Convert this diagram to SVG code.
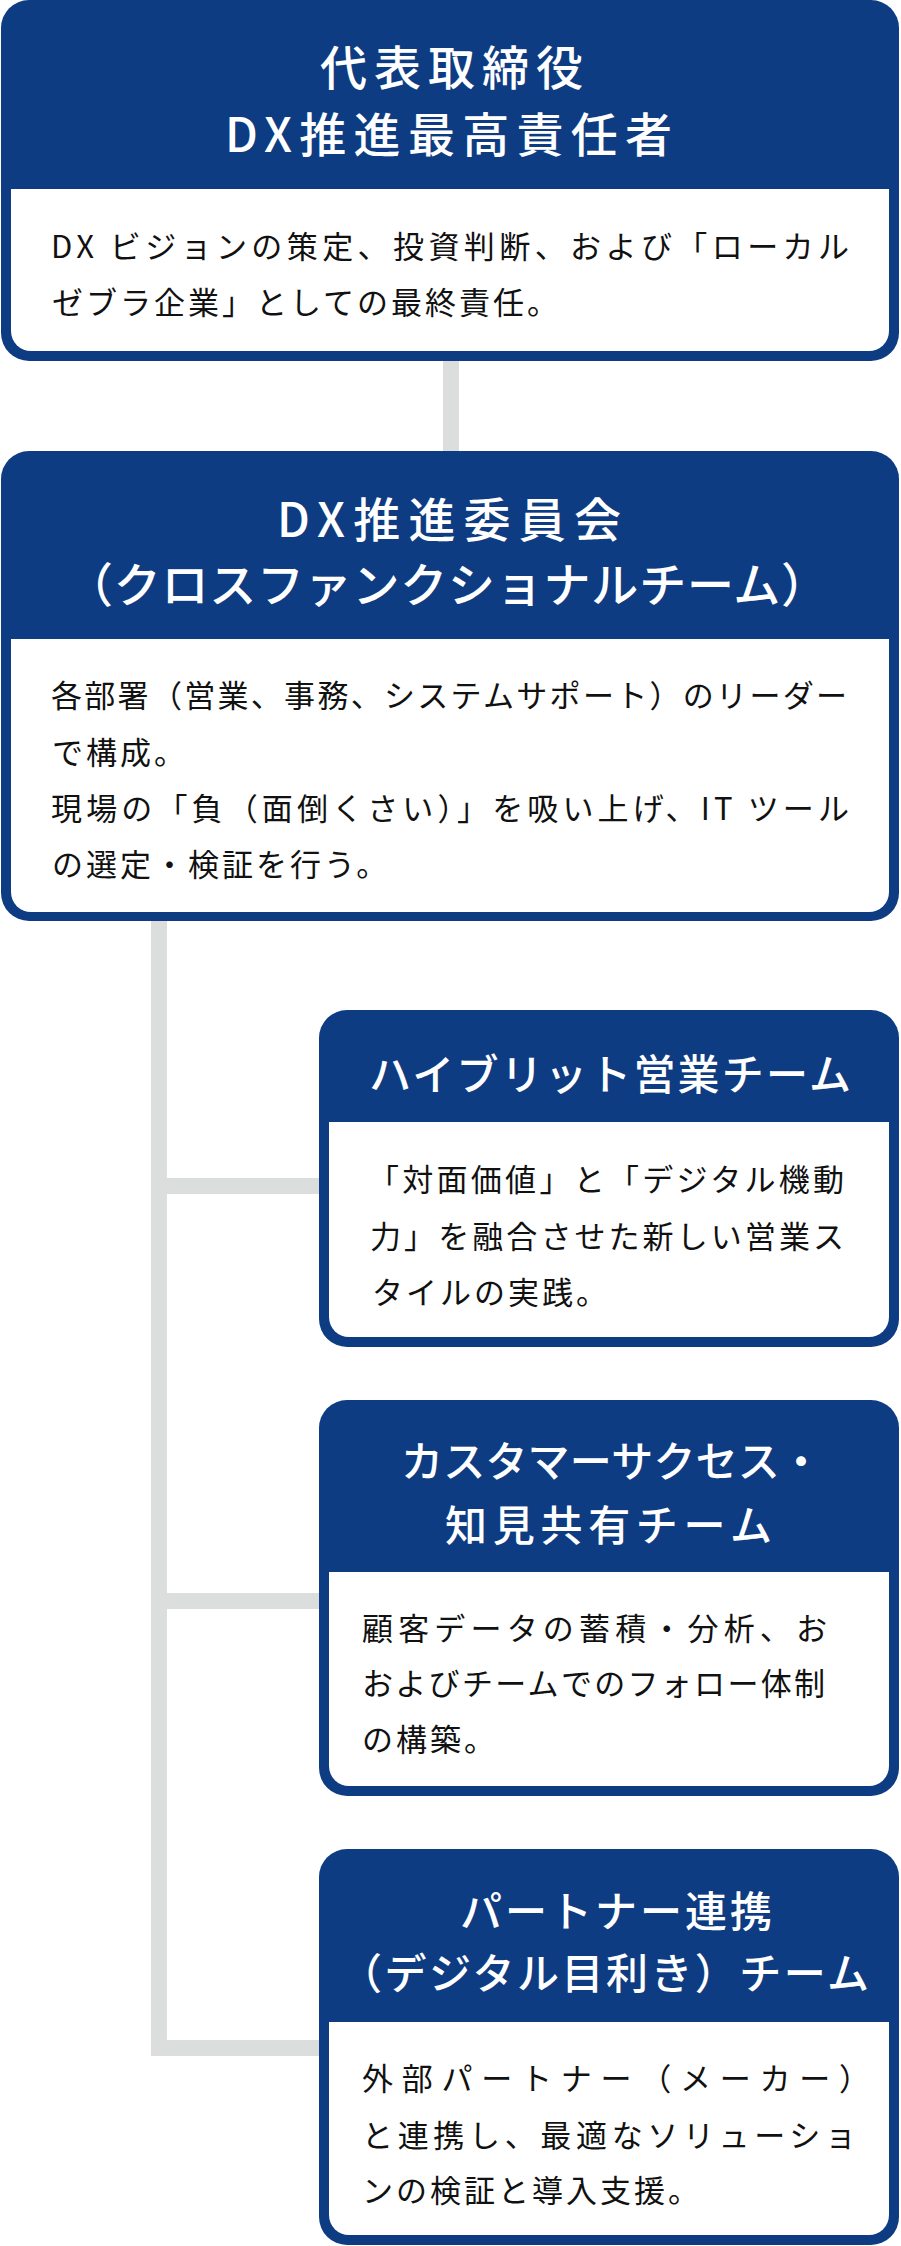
<svg xmlns="http://www.w3.org/2000/svg" width="901" height="2246" viewBox="0 0 901 2246">
<style>
.box{fill:#0e3c82}
.inner{fill:#ffffff}
.ttl{font-family:"Noto Sans CJK JP","Noto Sans",sans-serif;fill:#ffffff;font-weight:500;dominant-baseline:central}
.t1{font-size:47px}
.t2{font-size:42px}
.body{font-family:"Noto Sans CJK JP","Noto Sans",sans-serif;fill:#111111;font-size:31px;letter-spacing:3px;dominant-baseline:central}
.conn{fill:none;stroke:#dcdddd;stroke-width:16;stroke-linejoin:miter;stroke-linecap:butt}
</style>
<g id="connectors">
<path class="conn" d="M451,361 V451"/>
<path class="conn" d="M159,921 V2048 H319"/>
<path class="conn" d="M159,1186 H319"/>
<path class="conn" d="M159,1601 H319"/>
</g>
<g id="node-ceo">
<rect class="box" x="1" y="0" width="898" height="361" rx="28"/>
<path class="inner" d="M11,189 H889 V331 A20,20 0 0 1 869,351 H31 A20,20 0 0 1 11,331 Z"/>
<text class="ttl t1" x="320" y="64" textLength="263" lengthAdjust="spacing">代表取締役</text>
<text class="ttl t1" x="225" y="131" textLength="447" lengthAdjust="spacing">DX推進最高責任者</text>
<text class="body" x="51" y="244" textLength="801" lengthAdjust="spacing">DX ビジョンの策定、投資判断、および「ローカル</text>
<text class="body" x="52" y="300">ゼブラ企業」としての最終責任。</text>
</g>
<g id="node-committee">
<rect class="box" x="1" y="451" width="898" height="470" rx="28"/>
<path class="inner" d="M11,639 H889 V892 A20,20 0 0 1 869,912 H31 A20,20 0 0 1 11,892 Z"/>
<text class="ttl t1" x="277" y="516" textLength="344" lengthAdjust="spacing">DX推進委員会</text>
<text class="ttl t1" x="66" y="581" textLength="762" lengthAdjust="spacing">（クロスファンクショナルチーム）</text>
<text class="body" x="51" y="693" textLength="799" lengthAdjust="spacing">各部署（営業、事務、システムサポート）のリーダー</text>
<text class="body" x="52" y="750">で構成。</text>
<text class="body" x="51" y="806" textLength="801" lengthAdjust="spacing">現場の「負（面倒くさい）」を吸い上げ、IT ツール</text>
<text class="body" x="52" y="862">の選定・検証を行う。</text>
</g>
<g id="node-hybrid-sales">
<rect class="box" x="319" y="1010" width="580" height="337" rx="28"/>
<path class="inner" d="M329,1122 H889 V1317 A20,20 0 0 1 869,1337 H349 A20,20 0 0 1 329,1317 Z"/>
<text class="ttl t2" x="369" y="1071" textLength="482" lengthAdjust="spacing">ハイブリット営業チーム</text>
<text class="body" x="368" y="1177" textLength="479" lengthAdjust="spacing">「対面価値」と「デジタル機動</text>
<text class="body" x="370" y="1234" textLength="477" lengthAdjust="spacing">力」を融合させた新しい営業ス</text>
<text class="body" x="372" y="1290">タイルの実践。</text>
</g>
<g id="node-customer-success">
<rect class="box" x="319" y="1400" width="580" height="396" rx="28"/>
<path class="inner" d="M329,1572 H889 V1766 A20,20 0 0 1 869,1786 H349 A20,20 0 0 1 329,1766 Z"/>
<text class="ttl t2" x="401" y="1458" textLength="421" lengthAdjust="spacing">カスタマーサクセス・</text>
<text class="ttl t2" x="445" y="1522" textLength="327" lengthAdjust="spacing">知見共有チーム</text>
<text class="body" x="362" y="1626" textLength="468" lengthAdjust="spacing">顧客データの蓄積・分析、お</text>
<text class="body" x="362" y="1681" textLength="466" lengthAdjust="spacing">およびチームでのフォロー体制</text>
<text class="body" x="362" y="1737">の構築。</text>
</g>
<g id="node-partner">
<rect class="box" x="319" y="1849" width="580" height="396" rx="28"/>
<path class="inner" d="M329,2022 H889 V2215 A20,20 0 0 1 869,2235 H349 A20,20 0 0 1 329,2215 Z"/>
<text class="ttl t2" x="460" y="1908" textLength="312" lengthAdjust="spacing">パートナー連携</text>
<text class="ttl t2" x="340" y="1970" textLength="529" lengthAdjust="spacing">（デジタル目利き）チーム</text>
<text class="body" x="362" y="2076" textLength="511" lengthAdjust="spacing">外部パートナー（メーカー）</text>
<text class="body" x="362" y="2133" textLength="497" lengthAdjust="spacing">と連携し、最適なソリューショ</text>
<text class="body" x="362" y="2188">ンの検証と導入支援。</text>
</g>
</svg>
